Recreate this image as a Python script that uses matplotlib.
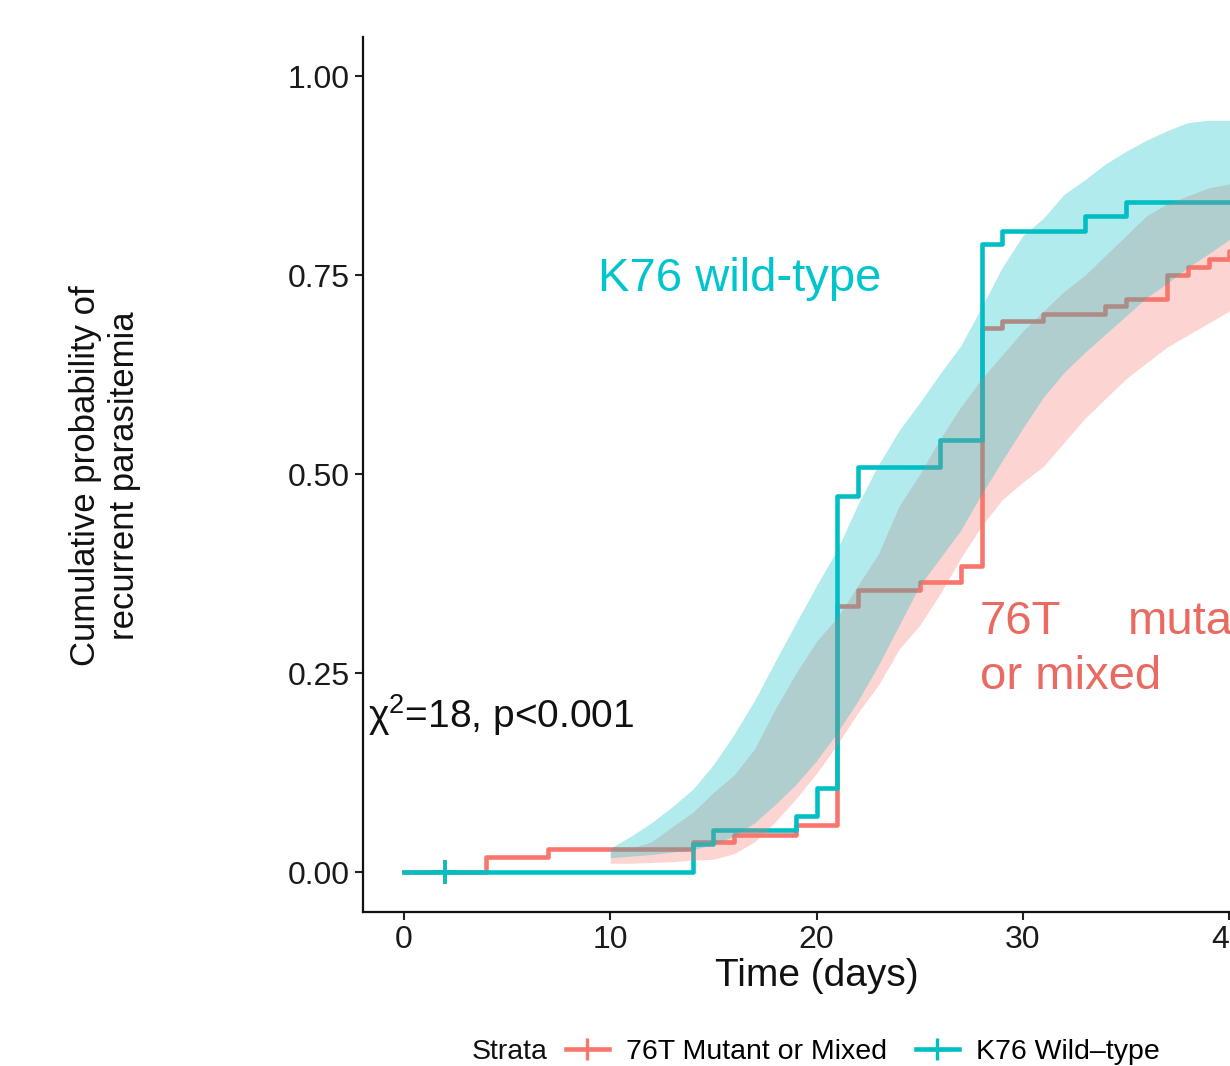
import matplotlib
matplotlib.use('Agg')
import matplotlib.pyplot as plt
from matplotlib.lines import Line2D

plt.rcParams['font.family'] = ['Liberation Sans', 'DejaVu Sans']
plt.rcParams['mathtext.fontset'] = 'custom'
plt.rcParams['mathtext.rm'] = 'Liberation Sans'
plt.rcParams['mathtext.it'] = 'Liberation Sans:italic'

# ---------------- data ----------------
MUT_TIMES = [0, 4, 7, 14, 16, 19, 21, 22, 25, 27, 28, 29, 31, 34, 35, 37, 38, 39, 40, 42]
MUT_PROB = [0, 0.019, 0.029, 0.038, 0.047, 0.059, 0.335, 0.355, 0.365, 0.385, 0.684,
            0.693, 0.702, 0.711, 0.720, 0.750, 0.760, 0.770, 0.781, 0.781]
WT_TIMES = [0, 14, 15, 19, 20, 21, 22, 26, 28, 29, 33, 35, 42]
WT_PROB = [0, 0.035, 0.053, 0.071, 0.105, 0.473, 0.509, 0.543, 0.789, 0.806, 0.824, 0.842, 0.842]
CENSOR_TIMES = [2]
CENSOR_PROB = [0]

BAND_DAYS = list(range(10, 43))
WT_UPPER = [0.030, 0.045, 0.062, 0.082, 0.104, 0.135, 0.173, 0.216, 0.265, 0.313,
            0.360, 0.405, 0.462, 0.512, 0.555, 0.590, 0.627, 0.662, 0.710, 0.760,
            0.800, 0.822, 0.852, 0.870, 0.890, 0.906, 0.920, 0.932, 0.942, 0.945,
            0.945, 0.945, 0.945]
WT_LOWER = [0.018, 0.020, 0.022, 0.025, 0.028, 0.035, 0.045, 0.062, 0.085, 0.110,
            0.140, 0.175, 0.215, 0.260, 0.310, 0.360, 0.395, 0.430, 0.475, 0.517,
            0.558, 0.597, 0.628, 0.653, 0.676, 0.699, 0.722, 0.740, 0.760, 0.777,
            0.795, 0.810, 0.820]
MUT_UPPER = [0.025, 0.030, 0.038, 0.057, 0.075, 0.100, 0.122, 0.155, 0.205, 0.250,
             0.290, 0.320, 0.360, 0.400, 0.460, 0.500, 0.545, 0.585, 0.620, 0.650,
             0.680, 0.705, 0.730, 0.750, 0.775, 0.800, 0.825, 0.840, 0.850, 0.860,
             0.865, 0.870, 0.875]
MUT_LOWER = [0.011, 0.011, 0.012, 0.013, 0.015, 0.016, 0.023, 0.038, 0.063, 0.092,
             0.124, 0.160, 0.200, 0.235, 0.280, 0.310, 0.350, 0.395, 0.435, 0.468,
             0.490, 0.510, 0.540, 0.570, 0.595, 0.620, 0.640, 0.660, 0.675, 0.690,
             0.705, 0.715, 0.720]

X_TICKS = [0, 10, 20, 30, 40]
Y_TICKS = [0.00, 0.25, 0.50, 0.75, 1.00]
Y_TICK_LABELS = ['0.00', '0.25', '0.50', '0.75', '1.00']
LEGEND_LABELS = ['76T Mutant or Mixed', 'K76 Wild\u2013type']

RED = '#F8766D'
TEAL = '#00BFC4'
RED_TXT = '#E86A61'
TEAL_TXT = '#00C5CD'

W, H = 1230, 1066
fig = plt.figure(figsize=(W / 100, H / 100), dpi=100)
ax = fig.add_axes([362.7 / W, (H - 911.8) / H, 907.7 / W, 875.1 / H])

# lines (under ribbons)
ax.step(MUT_TIMES, MUT_PROB, where='post', color=RED, lw=3.3, zorder=2)
ax.plot(CENSOR_TIMES, CENSOR_PROB, ls='none', marker='+', ms=17, mew=2.6, color=RED, zorder=2)
ax.step(WT_TIMES, WT_PROB, where='post', color=TEAL, lw=3.3, zorder=2.1)
ax.plot(CENSOR_TIMES, CENSOR_PROB, ls='none', marker='+', ms=17, mew=2.6, color=TEAL, zorder=2.1)

# ribbons drawn on top
ax.fill_between(BAND_DAYS, MUT_LOWER, MUT_UPPER, color=RED, alpha=0.3, lw=0, zorder=3)
ax.fill_between(BAND_DAYS, WT_LOWER, WT_UPPER, color=TEAL, alpha=0.3, lw=0, zorder=3.1)

ax.set_xlim(-2, 42)
ax.set_ylim(-0.05, 1.05)
ax.set_xticks(X_TICKS)
ax.set_yticks(Y_TICKS)
ax.set_yticklabels(Y_TICK_LABELS)
for s in ['top', 'right']:
    ax.spines[s].set_visible(False)
for s in ['left', 'bottom']:
    ax.spines[s].set_linewidth(1.6)
    ax.spines[s].set_color('#111111')
ax.tick_params(axis='both', length=5.5, width=1.5, color='#222222',
               labelsize=23, labelcolor='#1a1a1a', pad=4)
ax.set_xlabel('Time (days)', fontsize=28, color='#111111', labelpad=2)

fig.text(105 / W, 1 - 476 / H, 'Cumulative probability of\nrecurrent parasitemia',
         rotation=90, ha='center', va='center', fontsize=25, linespacing=1.2,
         color='#111111')

# annotations
ax.text(9.4, 0.745, 'K76 wild-type', color=TEAL_TXT, fontsize=34, ha='left', va='center')
ax.text(27.92, 0.2997, '76T', color=RED_TXT, fontsize=34, ha='left', va='baseline')
ax.text(35.09, 0.2997, 'mutant', color=RED_TXT, fontsize=34, ha='left', va='baseline')
ax.text(27.92, 0.2306, 'or mixed', color=RED_TXT, fontsize=34, ha='left', va='baseline')
ax.text(-1.75, 0.181, '\u03c7$^{2}$=18, p<0.001', color='#111111', fontsize=28,
        ha='left', va='baseline')

# legend
fig.text(472 / W, 1 - 1052 / H, 'Strata', fontsize=20.5, ha='left', va='center', color='#111111')
handles = [Line2D([], [], color=RED, lw=3.3, marker='+', ms=16, mew=2.4),
           Line2D([], [], color=TEAL, lw=3.3, marker='+', ms=16, mew=2.4)]
fig.legend(handles, LEGEND_LABELS, loc='center left',
           bbox_to_anchor=(566 / W, 1 - 1052 / H), ncol=2, frameon=False,
           fontsize=20.5, handlelength=1.5, handletextpad=0.62, columnspacing=1.0,
           borderpad=0, borderaxespad=0)

fig.savefig('out.png', dpi=100)
